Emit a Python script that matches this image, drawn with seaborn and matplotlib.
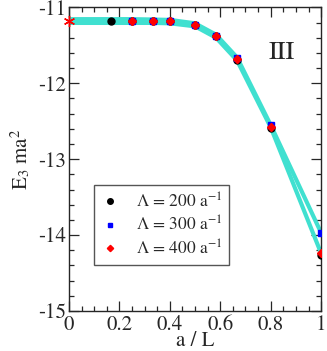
import numpy as np
import pandas as pd
import matplotlib
matplotlib.use("Agg")
import matplotlib.pyplot as plt
import seaborn as sns
from matplotlib.ticker import MultipleLocator

# a/L values
x200 = [1/6, 0.25, 1/3, 0.4, 0.5, 7/12, 2/3, 0.8, 1.0]
e200 = [-11.18, -11.18, -11.18, -11.18, -11.23, -11.38, -11.69, -12.59, -14.26]
x300 = [0.25, 1/3, 0.4, 0.5, 7/12, 2/3, 0.8, 1.0]
e300 = [-11.18, -11.18, -11.18, -11.23, -11.38, -11.67, -12.55, -13.97]
x400 = [0.25, 1/3, 0.4, 0.5, 7/12, 2/3, 0.8, 1.0]
e400 = [-11.18, -11.18, -11.18, -11.23, -11.38, -11.68, -12.57, -14.24]
# extrapolated value at a/L = 0
x_inf = [0.0]
e_inf = [-11.18]
# fit curves (cyan bands)
fit_x = [0.0, 1/6, 0.25, 1/3, 0.4, 0.5, 7/12, 2/3, 0.8, 1.0]
fit_a = [-11.155, -11.155, -11.155, -11.16, -11.165, -11.21, -11.36, -11.66, -12.55, -13.97]
fit_b = [-11.205, -11.205, -11.205, -11.205, -11.21, -11.25, -11.40, -11.70, -12.58, -14.24]

sns.set_style("ticks")
plt.rcParams['font.family'] = ['STIXGeneral', 'Liberation Serif', 'DejaVu Serif']
plt.rcParams['mathtext.fontset'] = 'stix'
plt.rcParams['axes.unicode_minus'] = False

fig = plt.figure(figsize=(3.27, 3.51), dpi=100)
ax = fig.add_axes([0.211, 0.114, 0.771, 0.865])

cyan = "#40e0d0"
fits = pd.DataFrame({"x": fit_x + fit_x, "y": fit_a + fit_b,
                     "c": ["a"] * len(fit_x) + ["b"] * len(fit_x)})
sns.lineplot(data=fits, x="x", y="y", units="c", estimator=None, sort=False,
             color=cyan, lw=3.0, ax=ax, legend=False)

ax.plot(x200, e200, "o", color="black", ms=5.0, label=r"$\Lambda$ = 200 a$^{-1}$", zorder=3)
ax.plot(x300, e300, "s", color="blue", ms=4.4, label=r"$\Lambda$ = 300 a$^{-1}$", zorder=4)
ax.plot(x400, e400, "D", color="red", ms=4.0, label=r"$\Lambda$ = 400 a$^{-1}$", zorder=5)
ax.plot(x_inf, e_inf, marker=(6, 2, 0), color="red", ms=8, mew=1.0, ls="none",
        clip_on=False, zorder=6)

ax.set_xlim(0, 1)
ax.set_ylim(-15, -11)
ax.xaxis.set_minor_locator(MultipleLocator(0.05))
ax.yaxis.set_major_locator(MultipleLocator(1))
ax.yaxis.set_minor_locator(MultipleLocator(0.2))
ax.set_xticks([0, 0.2, 0.4, 0.6, 0.8, 1.0])
ax.set_xticklabels(["0", "0.2", "0.4", "0.6", "0.8", "1"])
ax.tick_params(which="both", direction="in", top=True, right=True, labelsize=15, width=0.9)
ax.tick_params(which="major", length=7, pad=2)
ax.tick_params(axis="x", which="major", pad=3)
ax.tick_params(which="minor", length=3.5)
for s in ax.spines.values():
    s.set_linewidth(1.0)
    s.set_visible(True)

ax.set_xlabel("a / L", fontsize=15, labelpad=-3)
ax.set_ylabel(r"E$_3$ ma$^2$", fontsize=15, labelpad=4)
ax.text(0.845, 0.85, "III", transform=ax.transAxes, fontsize=19, ha="center", va="center")

leg = ax.legend(loc="upper left", bbox_to_anchor=(0.099, 0.414), borderaxespad=0,
                fontsize=12.5, fancybox=False, framealpha=1, edgecolor="#555555",
                handlelength=1.0, handletextpad=1.0, borderpad=0.4, labelspacing=0.25,
                markerscale=0.8)
leg.get_frame().set_linewidth(1.0)

fig.savefig("out.png", dpi=100)
